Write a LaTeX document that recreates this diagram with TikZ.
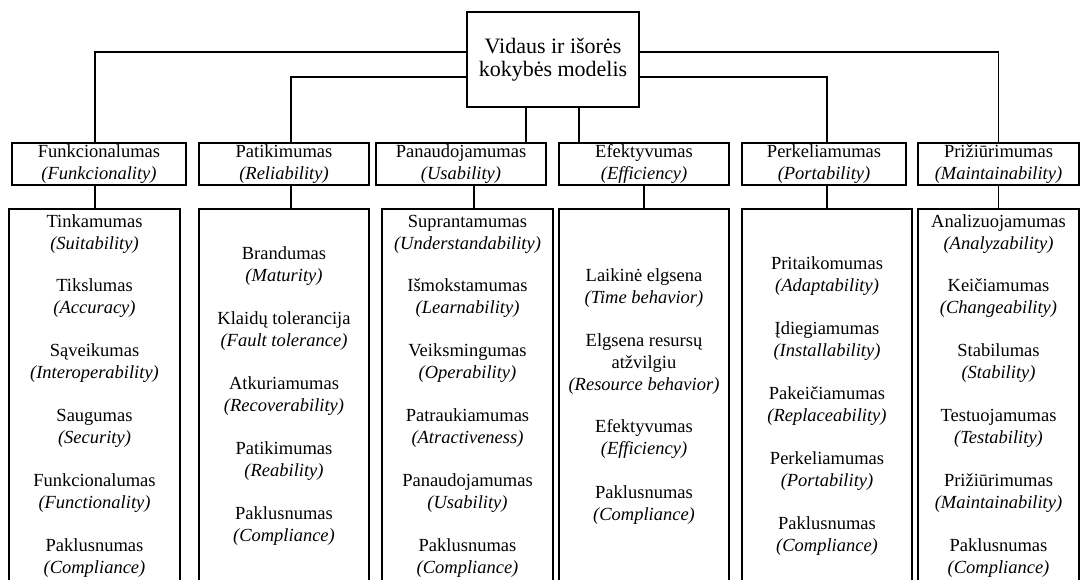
\documentclass[tikz,border=0pt]{standalone}
\usepackage{fontspec}
\setmainfont{Liberation Serif}
\begin{document}
\begin{tikzpicture}[x=1pt,y=-1pt,line width=1.1pt,
  box/.style={draw,inner sep=0pt,minimum height=42pt},
  txt/.style={align=center,inner sep=0pt,font=\fontsize{18.5}{22}\selectfont},
  lowbox/.style={draw,inner sep=0pt,minimum height=381pt}]
\useasboundingbox (0,0) rectangle (1081,579);
\clip (0,0) rectangle (1081,579);

% root of the model
\node[box,minimum width=172pt,minimum height=95pt,align=center,
      font=\fontsize{22}{23}\selectfont] (top) at (553,59.5)
      {Vidaus ir išorės\\kokybės modelis};

% characteristics
\node[box,minimum width=174pt] (c1) at (99,164) {};
\node[box,minimum width=170pt] (c2) at (284,164) {};
\node[box,minimum width=170pt] (c3) at (461,164) {};
\node[box,minimum width=170pt] (c4) at (644,164) {};
\node[box,minimum width=164pt] (c5) at (824,164) {};
\node[box,minimum width=161pt] (c6) at (998.5,164) {};
\node[txt] (t1) at (c1) {Funkcionalumas\\\textit{(Funkcionality)}};
\node[txt] (t2) at (c2) {Patikimumas\\\textit{(Reliability)}};
\node[txt] (t3) at (c3) {Panaudojamumas\\\textit{(Usability)}};
\node[txt] (t4) at (c4) {Efektyvumas\\\textit{(Efficiency)}};
\node[txt] (t5) at (c5) {Perkeliamumas\\\textit{(Portability)}};
\node[txt] (t6) at (c6) {Prižiūrimumas\\\textit{(Maintainability)}};

% sub-characteristic columns
\node[lowbox,minimum width=171pt] (l1) at (94.5,399.5) {};
\node[lowbox,minimum width=170pt] (l2) at (284,399.5) {};
\node[lowbox,minimum width=171pt] (l3) at (467.5,399.5) {};
\node[lowbox,minimum width=170pt] (l4) at (644,399.5) {};
\node[lowbox,minimum width=170pt] (l5) at (827,399.5) {};
\node[lowbox,minimum width=161pt] (l6) at (998.5,399.5) {};

% connectors from the root
\draw ([yshift=7.5pt]top.west) -| ([xshift=-4pt]c1.north);
\draw ([yshift=-17.5pt]top.west) -| ([xshift=7pt]c2.north);
\draw ([xshift=-27pt]top.south) -- ([xshift=-27pt]top.south |- c3.north);
\draw ([xshift=26pt]top.south) -- ([xshift=26pt]top.south |- c4.north);
\draw ([yshift=-17.5pt]top.east) -| ([xshift=3pt]c5.north);
\draw ([yshift=7.5pt]top.east) -| (c6.north);

% connectors to the columns
\draw ([xshift=-4pt]c1.south) -- ([xshift=-4pt]c1.south |- l1.north);
\draw ([xshift=7pt]c2.south) -- ([xshift=7pt]c2.south |- l2.north);
\draw ([xshift=6.5pt]l3.north |- c3.south) -- ([xshift=6.5pt]l3.north);
\draw (c4.south) -- (l4.north);
\draw (l5.north |- c5.south) -- (l5.north);
\draw (c6.south) -- (l6.north);

% column contents
\foreach \y/\lt/\en [count=\i] in
  {234/Tinkamumas/Suitability, 298/Tikslumas/Accuracy,
   363/Sąveikumas/Interoperability, 428/Saugumas/Security,
   493/Funkcionalumas/Functionality, 558/Paklusnumas/Compliance}
  \node[txt] (a\i) at (l1.north |- 0,\y) {\lt\\\textit{(\en)}};
\foreach \y/\lt/\en [count=\i] in
  {266/Brandumas/Maturity, 331/Klaidų tolerancija/Fault tolerance,
   396/Atkuriamumas/Recoverability, 461/Patikimumas/Reability,
   526/Paklusnumas/Compliance}
  \node[txt] (b\i) at (l2.north |- 0,\y) {\lt\\\textit{(\en)}};
\foreach \y/\lt/\en [count=\i] in
  {234/Suprantamumas/Understandability, 298/Išmokstamumas/Learnability,
   363/Veiksmingumas/Operability, 428/Patraukiamumas/Atractiveness,
   493/Panaudojamumas/Usability, 558/Paklusnumas/Compliance}
  \node[txt] (p\i) at (l3.north |- 0,\y) {\lt\\\textit{(\en)}};
\node[txt] (e1) at (l4.north |- 0,288) {Laikinė elgsena\\\textit{(Time behavior)}};
\node[txt] (e2) at (l4.north |- 0,364) {Elgsena resursų\\atžvilgiu\\\textit{(Resource behavior)}};
\node[txt] (e3) at (l4.north |- 0,439) {Efektyvumas\\\textit{(Efficiency)}};
\node[txt] (e4) at (l4.north |- 0,505) {Paklusnumas\\\textit{(Compliance)}};
\foreach \y/\lt/\en [count=\i] in
  {276/Pritaikomumas/Adaptability, 341/Įdiegiamumas/Installability,
   406/Pakeičiamumas/Replaceability, 471/Perkeliamumas/Portability,
   536/Paklusnumas/Compliance}
  \node[txt] (r\i) at (l5.north |- 0,\y) {\lt\\\textit{(\en)}};
\foreach \y/\lt/\en [count=\i] in
  {234/Analizuojamumas/Analyzability, 298/Keičiamumas/Changeability,
   363/Stabilumas/Stability, 428/Testuojamumas/Testability,
   493/Prižiūrimumas/Maintainability, 558/Paklusnumas/Compliance}
  \node[txt] (m\i) at (l6.north |- 0,\y) {\lt\\\textit{(\en)}};
\end{tikzpicture}
\end{document}
